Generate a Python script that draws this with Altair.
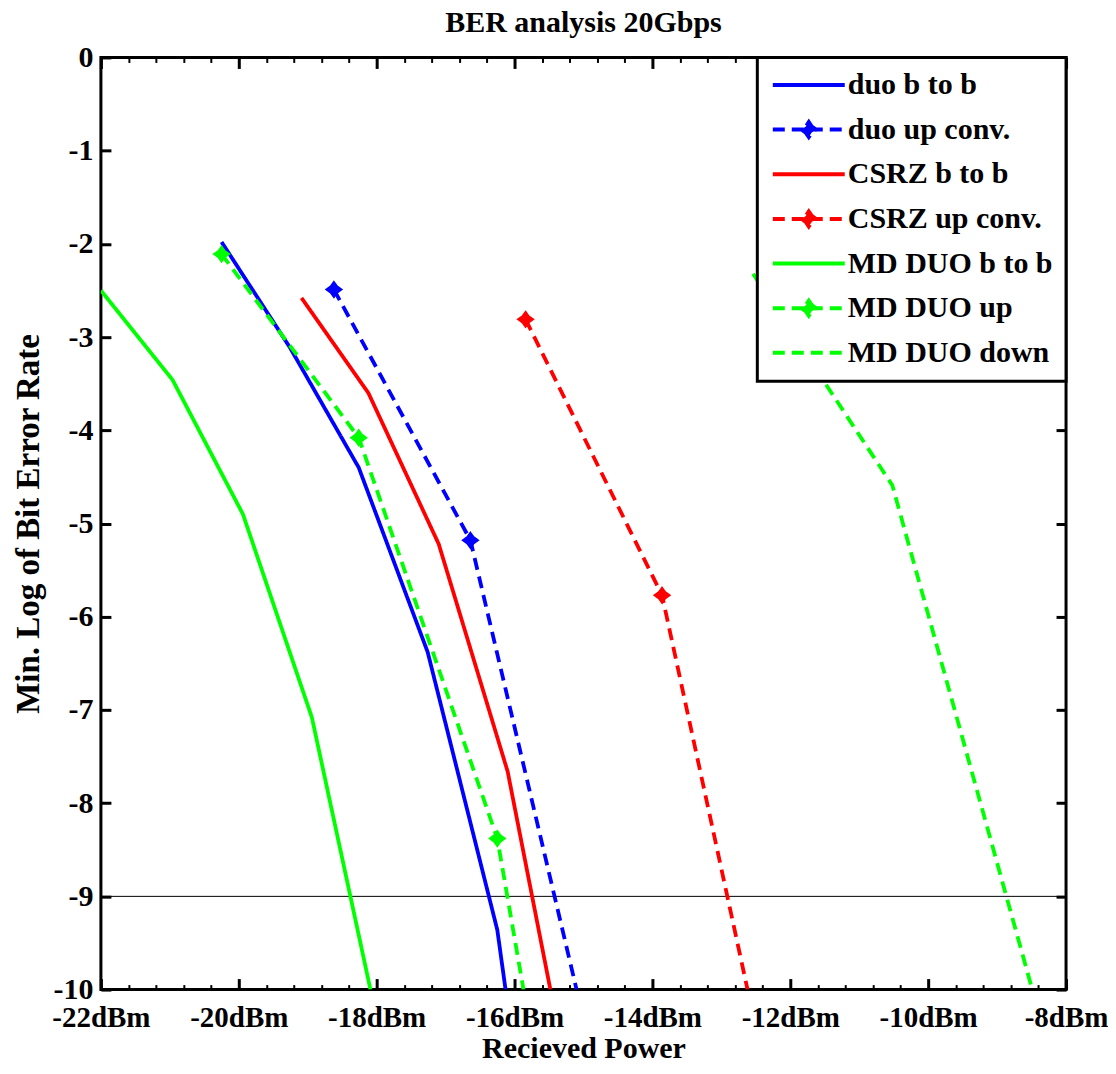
import altair as alt
import pandas as pd

# ---------------- data ----------------
series_names = ["duo b to b", "duo up conv.", "CSRZ b to b", "CSRZ up conv.",
                "MD DUO b to b", "MD DUO up", "MD DUO down"]
series_colors = ["#0000FF", "#0000FF", "#FF0000", "#FF0000",
                 "#00FF00", "#00FF00", "#00FF00"]
series_dash = [[1, 0], [12, 7], [1, 0], [12, 7], [1, 0], [12, 7], [12, 7]]
has_marker = [False, True, False, True, False, True, False]

# last point of every series is where the curve leaves the plot at y = -10
duo_b2b_x = [-20.25, -19.26, -18.26, -17.26, -16.25, -16.13]
duo_b2b_y = [-1.98, -3.11, -4.40, -6.38, -9.36, -10.0]
duo_up_x = [-18.62, -16.64, -15.10]
duo_up_y = [-2.49, -5.18, -10.0]
csrz_b2b_x = [-19.09, -18.12, -17.10, -16.10, -15.48]
csrz_b2b_y = [-2.58, -3.60, -5.22, -7.66, -10.0]
csrz_up_x = [-15.84, -13.86, -12.62]
csrz_up_y = [-2.81, -5.77, -10.0]
md_b2b_x = [-22.0, -20.96, -19.94, -18.94, -18.09]
md_b2b_y = [-2.50, -3.46, -4.90, -7.08, -10.0]
md_up_x = [-20.25, -18.26, -16.25, -15.87]
md_up_y = [-2.11, -4.08, -8.38, -10.0]
md_down_x = [-12.54, -10.52, -8.49]
md_down_y = [-2.32, -4.59, -10.0]

series_x = [duo_b2b_x, duo_up_x, csrz_b2b_x, csrz_up_x, md_b2b_x, md_up_x, md_down_x]
series_y = [duo_b2b_y, duo_up_y, csrz_b2b_y, csrz_up_y, md_b2b_y, md_up_y, md_down_y]

x_major = [-22, -20, -18, -16, -14, -12, -10, -8]
x_minor = [round(-22 + 0.4 * i, 1) for i in range(36) if i % 5 != 0]
y_major = [0, -1, -2, -3, -4, -5, -6, -7, -8, -9, -10]
threshold = [-9]

rows = []
for name, xs, ys, mk in zip(series_names, series_x, series_y, has_marker):
    n = len(xs)
    for i, (xv, yv) in enumerate(zip(xs, ys)):
        rows.append({"series": name, "x": xv, "y": yv, "order": i,
                     "marker": bool(mk and i < n - 1)})
df = pd.DataFrame(rows)
rule_df = pd.DataFrame({"y": threshold})

# ---------------- styling ----------------
FONT = "Liberation Serif"
W, H = 966, 933

x_scale = alt.Scale(domain=[-22, -8], nice=False, zero=False)
y_scale = alt.Scale(domain=[-10, 0], nice=False, zero=False)
color_scale = alt.Scale(domain=series_names, range=series_colors)
dash_scale = alt.Scale(domain=series_names, range=series_dash)

marker_names = [n for n, m in zip(series_names, has_marker) if m]
line_path = "M-1,0H5"
marker_path = line_path + "M2,-0.62L2.25,-0.25L2.6,0L2.25,0.25L2,0.62L1.75,0.25L1.4,0L1.75,-0.25Z"
sym_expr = ("indexof([" + ",".join("'%s'" % n for n in marker_names) + "], datum.value) >= 0 ? '"
            + marker_path + "' : '" + line_path + "'")
star_path = "M0,-1L0.42,-0.42L1,0L0.42,0.42L0,1L-0.42,0.42L-1,0L-0.42,-0.42Z"

legend = alt.Legend(title=None, orient="top-right", offset=0,
                    symbolType={"expr": sym_expr}, symbolSize=576, symbolStrokeWidth=4,
                    labelFont=FONT, labelFontSize=30, labelFontWeight="bold",
                    labelColor="black", labelOffset=48, labelLimit=400,
                    rowPadding=13.7, padding=12.5, fillColor="white",
                    strokeColor="black")


def tick_axis(orient, offset, values, size, width):
    return alt.Axis(orient=orient, offset=offset, values=values, ticks=True,
                    tickSize=size, tickWidth=width, tickColor="black",
                    labels=False, domain=False, grid=False, title=None)


ax_x_labels = alt.Axis(orient="bottom", values=x_major, labelExpr="datum.value + 'dBm'",
                       ticks=False, tickSize=0, domain=False, grid=False,
                       labelFont=FONT, labelFontSize=29, labelFontWeight="bold",
                       labelColor="black", labelPadding=37, labelBaseline="alphabetic",
                       labelFlush=False, labelOverlap=False,
                       title="Recieved Power", titleFont=FONT, titleFontSize=30,
                       titleFontWeight="bold", titleColor="black",
                       titleX=W / 2, titleY=68, titleBaseline="alphabetic", titleAlign="center")
ax_y_labels = alt.Axis(orient="left", values=y_major, labelExpr="'' + datum.value",
                       ticks=False, tickSize=0, domain=False, grid=False,
                       labelFont=FONT, labelFontSize=30, labelFontWeight="bold",
                       labelColor="black", labelPadding=8, labelFlush=False, labelOverlap=False,
                       title="Min. Log of Bit Error Rate", titleFont=FONT, titleFontSize=33,
                       titleFontWeight="bold", titleColor="black",
                       titleX=-62, titleY=H / 2, titleAngle=270,
                       titleBaseline="alphabetic", titleAlign="center")

base = alt.Chart(df)

rule = alt.Chart(rule_df).mark_rule(color="black", strokeWidth=1).encode(
    y=alt.Y("y:Q", scale=y_scale, axis=None))

lines = base.mark_line(strokeWidth=3.8, clip=True).encode(
    x=alt.X("x:Q", scale=x_scale, axis=ax_x_labels),
    y=alt.Y("y:Q", scale=y_scale, axis=ax_y_labels),
    color=alt.Color("series:N", scale=color_scale, legend=legend),
    strokeDash=alt.StrokeDash("series:N", scale=dash_scale, legend=legend),
    order="order:Q",
)

points = base.transform_filter("datum.marker").mark_point(
    filled=True, shape=star_path, size=225, opacity=1, strokeWidth=2).encode(
    x=alt.X("x:Q", scale=x_scale, axis=tick_axis("top", -H, x_major, 11, 3)),
    y=alt.Y("y:Q", scale=y_scale, axis=tick_axis("right", -W, y_major, 10, 3)),
    color=alt.Color("series:N", scale=color_scale, legend=None),
    stroke=alt.Color("series:N", scale=color_scale, legend=None),
)

inv1 = base.mark_point(opacity=0).encode(
    x=alt.X("x:Q", scale=x_scale, axis=tick_axis("bottom", -H, x_major, 11, 3)),
    y=alt.Y("y:Q", scale=y_scale, axis=tick_axis("left", -W, y_major, 10, 3)),
)
inv2 = base.mark_point(opacity=0).encode(
    x=alt.X("x:Q", scale=x_scale, axis=tick_axis("top", -H, x_minor, 5, 2)),
    y=alt.Y("y:Q", scale=y_scale, axis=None),
)
inv3 = base.mark_point(opacity=0).encode(
    x=alt.X("x:Q", scale=x_scale, axis=tick_axis("bottom", -H, x_minor, 5, 2)),
    y=alt.Y("y:Q", scale=y_scale, axis=None),
)

chart = alt.layer(rule, lines, points, inv1, inv2, inv3).resolve_axis(
    x="independent", y="independent"
).properties(
    width=W, height=H,
    padding={"left": 93, "top": 49, "right": 42, "bottom": 74},
    autosize=alt.AutoSizeParams(type="none"),
    background="white",
    title=alt.TitleParams("BER analysis 20Gbps", font=FONT, fontSize=30, fontWeight="bold",
                          color="black", anchor="middle", frame="group", offset=4),
).configure_view(stroke="black", strokeWidth=3).configure_legend(strokeWidth=3)

chart.save("out.html", embed_options={"renderer": "svg", "actions": False})
